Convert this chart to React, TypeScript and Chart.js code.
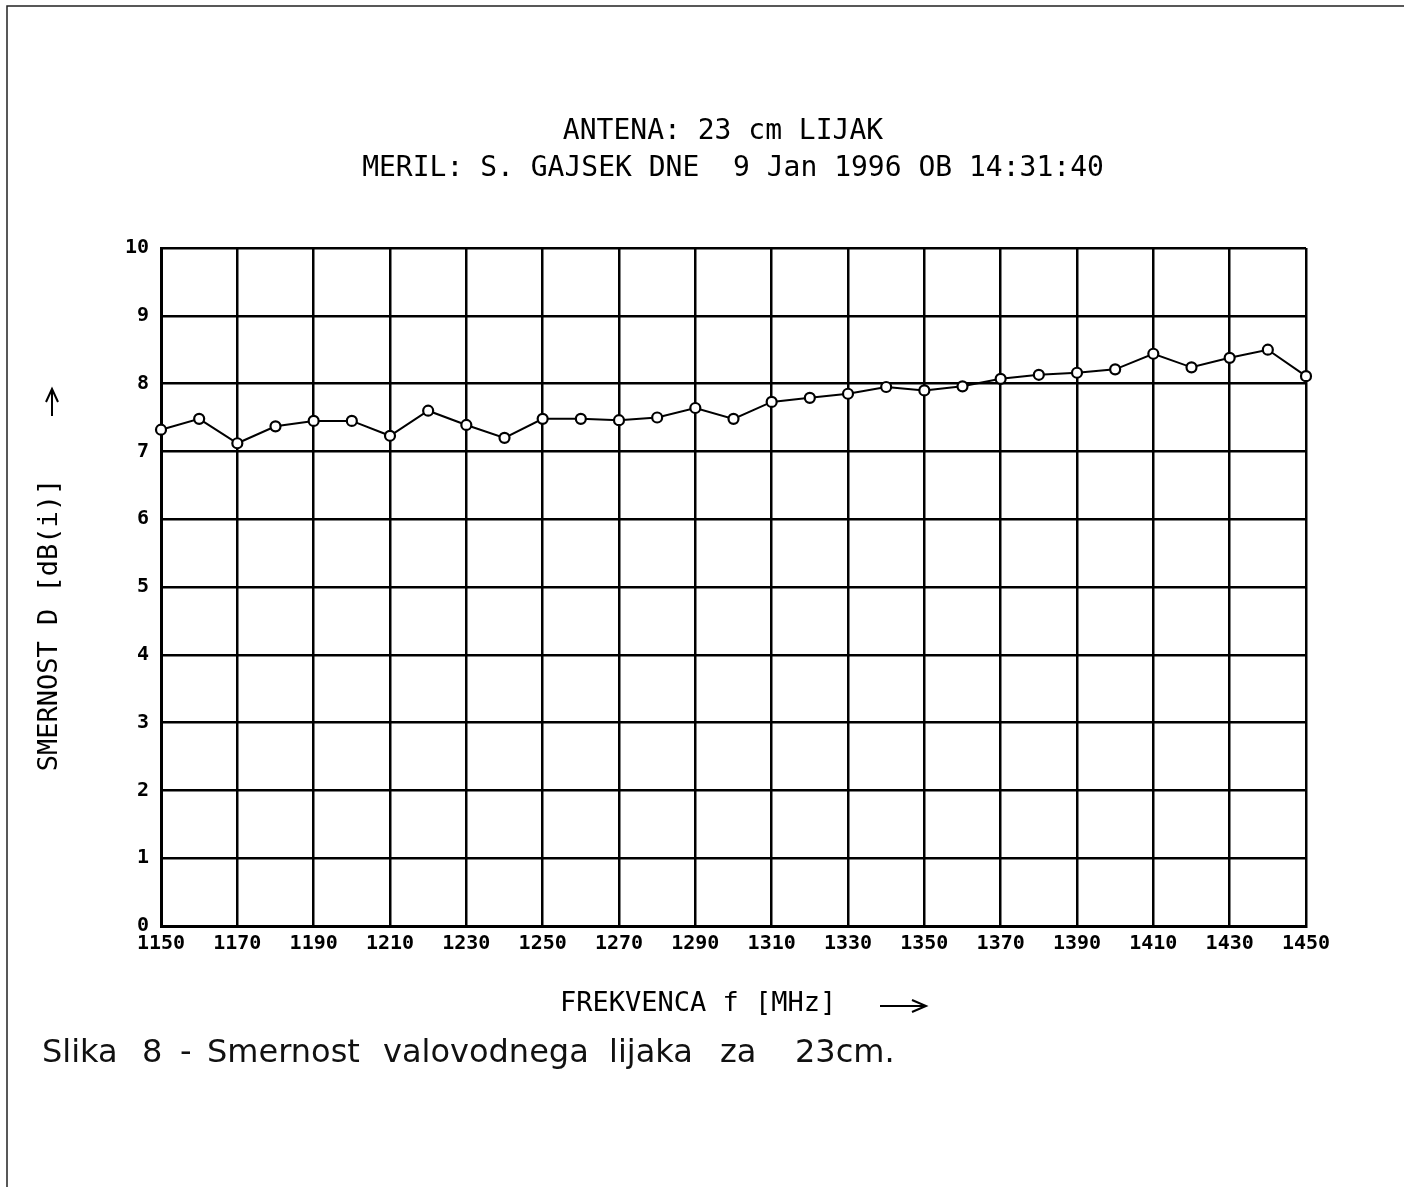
import React, { useEffect, useRef } from "react";
import { Chart, registerables } from "chart.js";

Chart.register(...registerables);

const frequencies = [
  1150, 1160, 1170, 1180, 1190, 1200, 1210, 1220, 1230, 1240, 1250,
  1260, 1270, 1280, 1290, 1300, 1310, 1320, 1330, 1340, 1350, 1360,
  1370, 1380, 1390, 1400, 1410, 1420, 1430, 1440, 1450,
];
const directivity = [
  7.32, 7.48, 7.12, 7.37, 7.45, 7.45, 7.23, 7.6, 7.39, 7.2, 7.48,
  7.48, 7.46, 7.5, 7.64, 7.48, 7.73, 7.79, 7.85, 7.95, 7.9, 7.96,
  8.07, 8.13, 8.16, 8.21, 8.44, 8.24, 8.38, 8.5, 8.11,
];
const titleLines = ["ANTENA: 23 cm LIJAK", "MERIL: S. GAJSEK DNE  9 Jan 1996 OB 14:31:40"];
const xAxisTitle = "FREKVENCA f [MHz]";
const yAxisTitle = "SMERNOST D [dB(i)]";
const captionWords = ["Slika", "8", "-", "Smernost", "valovodnega", "lijaka", "za", "23cm."];
const captionX = [42, 142, 180, 207, 383, 609, 720, 795];

const MONO = '"DejaVu Sans Mono", "Liberation Mono", monospace';

const decorPlugin = {
  id: "decor",
  afterDraw(chart: any) {
    const ctx = chart.ctx as CanvasRenderingContext2D;
    ctx.save();
    // page border (scan edge)
    ctx.strokeStyle = "#222";
    ctx.lineWidth = 1.5;
    ctx.beginPath();
    ctx.moveTo(7, 1187);
    ctx.lineTo(7, 6);
    ctx.lineTo(1404, 6);
    ctx.stroke();

    ctx.fillStyle = "#000";
    ctx.strokeStyle = "#000";
    // titles
    ctx.font = `28px ${MONO}`;
    ctx.textAlign = "center";
    ctx.textBaseline = "middle";
    ctx.fillText(titleLines[0], 723, 132);
    ctx.fillText(titleLines[1], 733, 169);

    // x axis title
    ctx.font = `27px ${MONO}`;
    ctx.textAlign = "left";
    ctx.fillText(xAxisTitle, 560, 1004);
    // x arrow
    ctx.lineWidth = 2;
    ctx.beginPath();
    ctx.moveTo(880, 1006);
    ctx.lineTo(926, 1006);
    ctx.moveTo(912, 1000);
    ctx.lineTo(926, 1006);
    ctx.lineTo(912, 1012);
    ctx.stroke();

    // y axis title
    ctx.save();
    ctx.translate(50, 625);
    ctx.rotate(-Math.PI / 2);
    ctx.textAlign = "center";
    ctx.fillText(yAxisTitle, 0, 0);
    ctx.restore();
    // y arrow
    ctx.beginPath();
    ctx.moveTo(52, 416);
    ctx.lineTo(52, 389);
    ctx.moveTo(46, 402);
    ctx.lineTo(52, 389);
    ctx.lineTo(58, 402);
    ctx.stroke();

    // caption
    ctx.font = '32px "DejaVu Sans", sans-serif';
    ctx.fillStyle = "#111";
    ctx.textAlign = "left";
    ctx.textBaseline = "alphabetic";
    captionWords.forEach((w, i) => {
      ctx.fillText(w, captionX[i], 1062);
    });
    ctx.restore();
  },
};

export default function App() {
  const ref = useRef<HTMLCanvasElement | null>(null);
  useEffect(() => {
    if (!ref.current) return;
    const chart = new Chart(ref.current, {
      type: "line",
      data: {
        datasets: [
          {
            data: frequencies.map((f, i) => ({ x: f, y: directivity[i] })),
            borderColor: "#000",
            borderWidth: 2,
            pointRadius: 5,
            pointBorderWidth: 2.2,
            pointBackgroundColor: "#fff",
            pointBorderColor: "#000",
            tension: 0,
            clip: false as any,
          },
        ],
      },
      options: {
        animation: false,
        responsive: false,
        layout: { padding: { left: 111, top: 248, right: 98, bottom: 211 } },
        plugins: {
          legend: { display: false },
          tooltip: { enabled: false },
          title: { display: false },
        },
        scales: {
          x: {
            type: "linear",
            min: 1150,
            max: 1450,
            afterFit(scale: any) {
              scale.height = 50;
            },
            ticks: {
              stepSize: 20,
              padding: 6,
              color: "#000",
              maxRotation: 0,
              autoSkip: false,
              font: { family: MONO, size: 20, weight: "bold" },
              callback: (v: any) => String(v),
            },
            grid: { color: "#000", lineWidth: 2.5, drawTicks: false },
            border: { color: "#000", width: 3 },
          },
          y: {
            min: 0,
            max: 10,
            afterFit(scale: any) {
              scale.width = 50;
            },
            ticks: {
              stepSize: 1,
              padding: 12,
              color: "#000",
              font: { family: MONO, size: 20, weight: "bold" },
              callback: (v: any) => String(v),
            },
            grid: { color: "#000", lineWidth: 2.5, drawTicks: false },
            border: { color: "#000", width: 3 },
          },
        },
      },
      plugins: [decorPlugin],
    });
    return () => chart.destroy();
  }, []);
  return (
    <div style={{ position: "fixed", left: 0, top: 0, width: 1404, height: 1187, background: "#fff" }}>
      <canvas ref={ref} width={1404} height={1187} style={{ display: "block" }} />
    </div>
  );
}
